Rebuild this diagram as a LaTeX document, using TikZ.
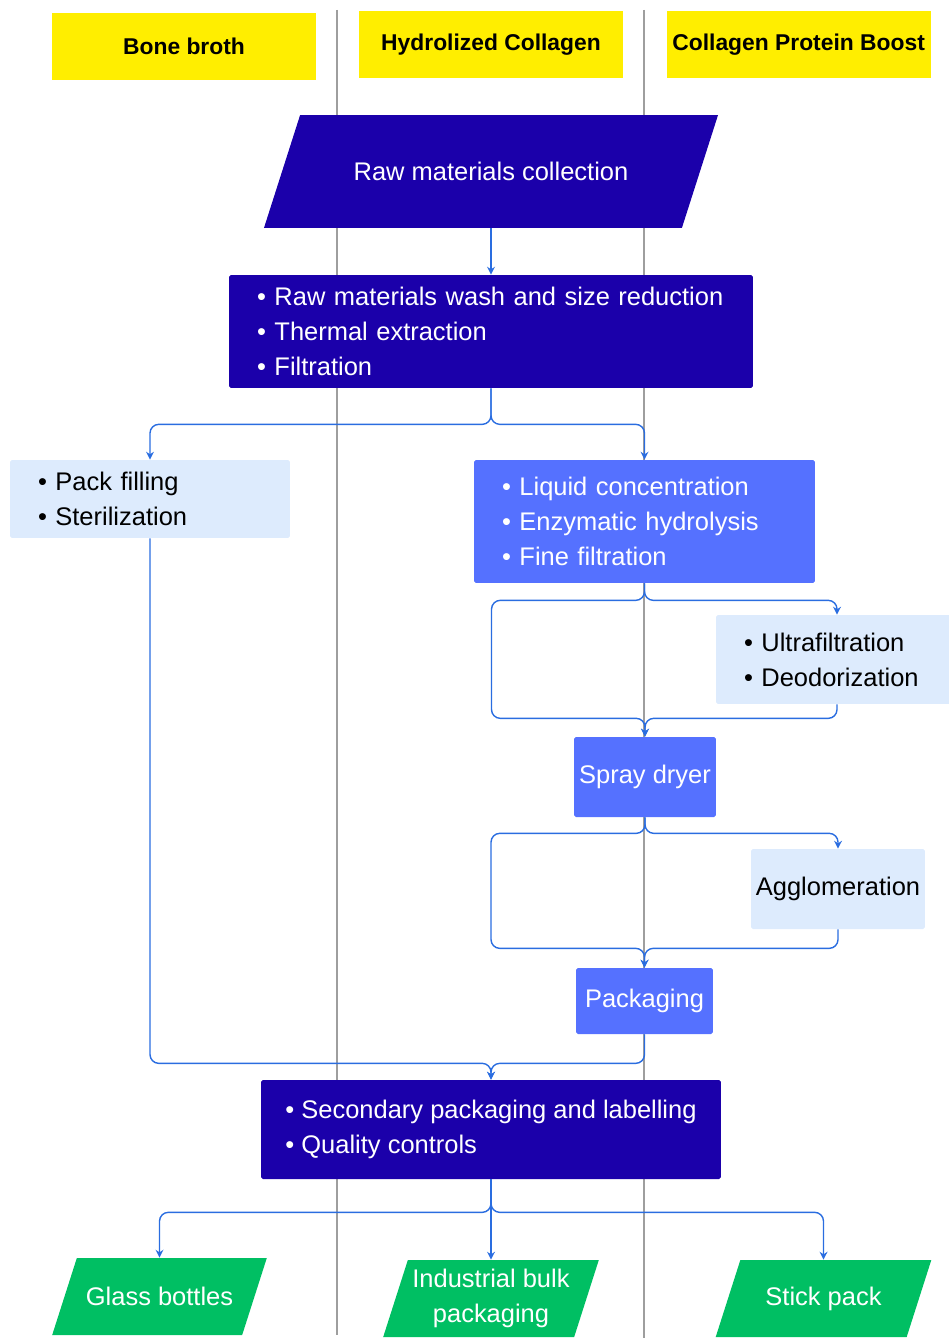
\documentclass[tikz,border=0pt]{standalone}
\usepackage{fontspec}
\setmainfont{Liberation Sans}
\usepackage{tikz}
\usetikzlibrary{arrows.meta,positioning}
\definecolor{lanegray}{HTML}{9E9E9E}
\definecolor{hdrfill}{HTML}{FFEE00}
\definecolor{stepdark}{HTML}{1B00AA}
\definecolor{stepmid}{HTML}{5571FF}
\definecolor{steplight}{HTML}{DDEBFD}
\definecolor{outfill}{HTML}{00BF63}
\definecolor{flowblue}{HTML}{2A6DE0}
\newcommand{\bodysize}{\fontsize{14.5}{19.8}\selectfont}

\begin{document}
\begin{tikzpicture}[x=0.02cm, y=-0.02cm,
  lane/.style={draw=lanegray, line width=1.1pt},
  header/.style={fill=hdrfill, minimum width=5.28cm, minimum height=1.34cm, inner sep=0pt, font=\fontsize{13}{15}\selectfont\bfseries},
  box/.style={rounded corners=1pt, inner sep=0pt, align=center, font=\bodysize},
  listbox/.style={box, align=left, inner xsep=0.56cm},
  dark/.style={fill=stepdark, text=white},
  mid/.style={fill=stepmid, text=white},
  light/.style={fill=steplight, text=black},
  iobg/.style={xslant=0.32, inner sep=0pt},
  io/.style={inner sep=0pt, align=center, text=white, font=\bodysize},
  flow/.style={-{Stealth[length=4.5pt, width=4.5pt]}, draw=flowblue, line width=0.8pt, rounded corners=5pt}
]
  \useasboundingbox (0,0) rectangle (949,1338);
  \draw[lane] (337,10) -- (337,1335);
  \draw[lane] (644,10) -- (644,1338);

  \node[header] (hydro) at (491,44.5) {Hydrolized Collagen};
  \node[header] (bone) at (184,46.5) {Bone broth};
  \node[header, right=0.86cm of hydro] (boost) {Collagen Protein Boost};

  \node[iobg, fill=stepdark, minimum width=8.36cm, minimum height=2.26cm] (rawbg) at (491,171.5) {};
  \node[io, minimum width=8.36cm, minimum height=2.26cm] (raw) at (rawbg) {Raw materials collection};
  \node[listbox, dark, text width=9.36cm, minimum height=2.26cm] (wash) at (491,331.5) {\textbullet\ Raw materials wash and size reduction\\ \textbullet\ Thermal extraction\\ \textbullet\ Filtration};
  \node[listbox, light, text width=4.48cm, minimum height=1.56cm] (pack) at (150,499) {\textbullet\ Pack filling\\ \textbullet\ Sterilization};
  \node[listbox, mid, text width=5.70cm, minimum height=2.46cm] (liquid) at (644.5,521.5) {\textbullet\ Liquid concentration\\ \textbullet\ Enzymatic hydrolysis\\ \textbullet\ Fine filtration};
  \node[listbox, light, text width=3.72cm, minimum height=1.78cm] (ultra) at (837,659.5) {\textbullet\ Ultrafiltration\\ \textbullet\ Deodorization};
  \node[box, mid, minimum width=2.84cm, minimum height=1.6cm] (spray) at (645,777) {Spray dryer};
  \node[box, light, minimum width=3.48cm, minimum height=1.6cm] (agglo) at (838,889) {Agglomeration};
  \node[box, mid, minimum width=2.74cm, minimum height=1.32cm] (packing) at (644.5,1001) {Packaging};
  \node[listbox, dark, inner xsep=0pt, minimum width=9.2cm, minimum height=1.98cm] (second) at (491,1129.5) {\textbullet\ Secondary packaging and labelling\\ \textbullet\ Quality controls};

  \node[iobg, fill=outfill, minimum width=3.8cm, minimum height=1.54cm] (glassbg) at (159.5,1296.5) {};
  \node[io, minimum width=3.8cm, minimum height=1.54cm] (glass) at (glassbg) {Glass bottles};
  \node[iobg, fill=outfill, minimum width=3.82cm, minimum height=1.54cm] (bulkbg) at (491,1298.5) {};
  \node[io, minimum width=3.82cm, minimum height=1.54cm] (bulk) at (bulkbg) {Industrial bulk\\packaging};
  \node[iobg, fill=outfill, minimum width=3.82cm, minimum height=1.54cm] (stickbg) at (823.5,1298.5) {};
  \node[io, minimum width=3.82cm, minimum height=1.54cm] (stick) at (stickbg) {Stick pack};

  \draw[flow] (raw) -- (wash);
  \draw[flow] (wash.south) -- ++(0,36) -| (pack);
  \draw[flow] (wash.south) -- ++(0,36) -| (liquid);
  \draw[flow] (liquid.south) -- ++(0,17) -| (ultra);
  \draw[flow] (liquid.south) -- ++(0,17) -- ++(-153,0) -- ++(0,118) -| (spray);
  \draw[flow] (ultra.south) -- ++(0,14) -| (spray);
  \draw[flow] (spray.south) -- ++(0,16) -| (agglo);
  \draw[flow] (spray.south) -- ++(0,16) -- ++(-154,0) -- ++(0,115) -| (packing);
  \draw[flow] (agglo.south) -- ++(0,19) -| (packing);
  \draw[flow] (pack.south) -- ++(0,525) -| (second);
  \draw[flow] (packing.south) -- ++(0,29) -| (second);
  \draw[flow] (second.south) -- ++(0,33) -| (glass);
  \draw[flow] (second) -- (bulk);
  \draw[flow] (second.south) -- ++(0,33) -| (stick);
\end{tikzpicture}
\end{document}
